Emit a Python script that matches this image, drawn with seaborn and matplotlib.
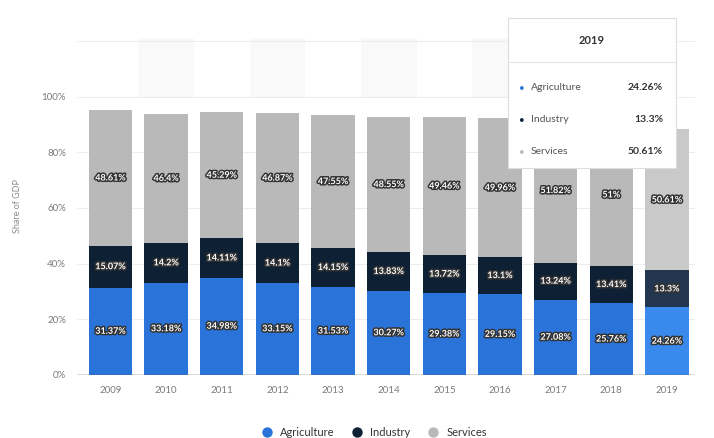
import matplotlib
matplotlib.use("Agg")
import matplotlib.pyplot as plt
import matplotlib.patheffects as pe
from matplotlib.patches import Rectangle
from matplotlib.lines import Line2D
import seaborn as sns
import numpy as np

years = ["2009", "2010", "2011", "2012", "2013", "2014", "2015", "2016", "2017", "2018", "2019"]
agriculture = [31.37, 33.18, 34.98, 33.15, 31.53, 30.27, 29.38, 29.15, 27.08, 25.76, 24.26]
industry = [15.07, 14.2, 14.11, 14.1, 14.15, 13.83, 13.72, 13.1, 13.24, 13.41, 13.3]
services = [48.61, 46.4, 45.29, 46.87, 47.55, 48.55, 49.46, 49.96, 51.82, 51.0, 50.61]
series_names = ["Agriculture", "Industry", "Services"]
y_ticks = [0, 20, 40, 60, 80, 100]

colors = ["#2a73d8", "#0e2033", "#b9b9b9"]
hover_colors = ["#3a8aee", "#22364f", "#c9c9c9"]

sns.set_theme(style="white")
plt.rcParams["font.family"] = ["Lato", "DejaVu Sans"]

fig = plt.figure(figsize=(7.14, 4.38), dpi=100)
ax = fig.add_axes([0.108, 0.144, 0.865, 0.769])

n = len(years)
x = np.arange(n)

# alternating column bands in the top strip
for i in range(n):
    if i % 2 == 1:
        ax.fill_between([i - 0.5, i + 0.5], 100, 121, color="#f9f9f9", zorder=0, lw=0)

# gridlines
for t in y_ticks + [120]:
    ax.axhline(t, color="#ededed", lw=0.8, zorder=0.5)

agr = np.array(agriculture)
ind = np.array(industry)
srv = np.array(services)
bottoms = [np.zeros(n), agr, agr + ind]
values = [agr, ind, srv]

for k in range(3):
    sns.barplot(x=years, y=values[k], bottom=bottoms[k], color=colors[k],
                width=0.78, saturation=1, ax=ax, zorder=2, linewidth=0)
    # highlighted last column
    ax.patches[-1].set_facecolor(hover_colors[k])

# value labels centred in each segment
stroke = [pe.withStroke(linewidth=2.2, foreground="#333333")]
for k in range(3):
    for i in range(n):
        v = values[k][i]
        yc = bottoms[k][i] + v / 2
        txt = f"{v:.2f}".rstrip("0").rstrip(".") + "%"
        ax.text(i, yc, txt, ha="center", va="center", fontsize=6.5,
                color="white", fontweight="bold", path_effects=stroke, zorder=4)

ax.set_xlim(-0.6, 10.5)
ax.set_ylim(0, 121)
ax.set_yticks(y_ticks)
ax.set_yticklabels([f"{t}%" for t in y_ticks])
ax.tick_params(axis="both", labelsize=7, colors="#7a7a7a", length=0, pad=8)
ax.set_xlabel("")
ax.set_ylabel("Share of GDP", fontsize=6.5, color="#8a8a8a", labelpad=14)
for s in ax.spines.values():
    s.set_visible(False)
ax.axhline(0, color="#555555", lw=1.0, zorder=3)
ax.grid(False)

# legend
handles = [Line2D([0], [0], marker="o", color="w", markerfacecolor=c, markersize=8.5)
           for c in colors]
fig.legend(handles, series_names, loc="lower center", bbox_to_anchor=(0.52, -0.022),
           ncol=3, frameon=False, fontsize=8, handletextpad=0.2, columnspacing=1.0,
           labelcolor="#333333")

# tooltip box for the highlighted year
W, H = 714, 438
def fx(px):
    return px / W
def fy(py):
    return 1 - py / H

box = Rectangle((fx(508), fy(168)), fx(676) - fx(508), fy(18) - fy(168),
                transform=fig.transFigure, facecolor="white", edgecolor="#dddddd",
                lw=0.8, zorder=10)
fig.patches.append(box)
fig.add_artist(Line2D([fx(509), fx(675)], [fy(62), fy(62)], color="#e6e6e6", lw=0.8,
                      transform=fig.transFigure, zorder=11))
fig.text(fx(592), fy(41), years[-1], ha="center", va="center", fontsize=8,
         fontweight="bold", color="#333333", zorder=11)
row_y = [88, 120, 152]
last_vals = [agriculture[-1], industry[-1], services[-1]]
for k in range(3):
    fig.text(fx(522), fy(row_y[k]), "•", ha="center", va="center", fontsize=7,
             color=colors[k], zorder=11)
    fig.text(fx(531), fy(row_y[k]), series_names[k], ha="left", va="center",
             fontsize=7.5, color="#555555", zorder=11)
    vtxt = f"{last_vals[k]:.2f}".rstrip("0").rstrip(".") + "%"
    fig.text(fx(663), fy(row_y[k]), vtxt, ha="right", va="center", fontsize=7.5,
             fontweight="bold", color="#333333", zorder=11)

fig.savefig("out.png", dpi=100, facecolor="white")
